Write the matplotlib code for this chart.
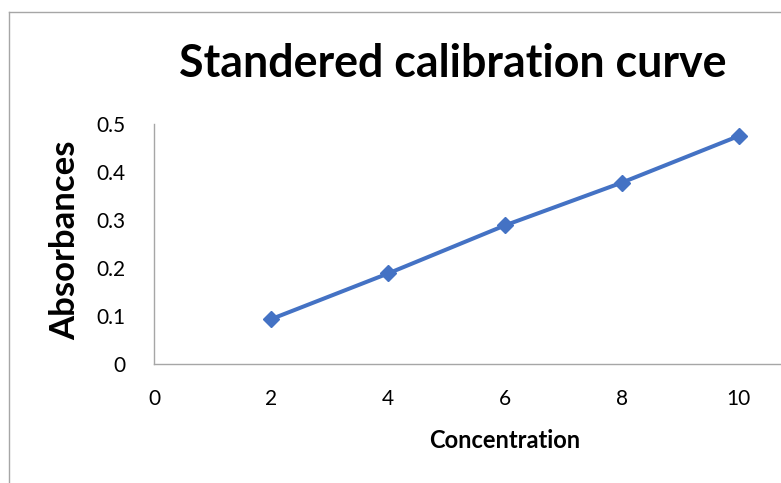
import matplotlib
matplotlib.use("Agg")
import matplotlib.pyplot as plt
from matplotlib.lines import Line2D

# calibration data
concentration = [2, 4, 6, 8, 10]
absorbance = [0.094, 0.189, 0.289, 0.378, 0.475]
x_ticks = [0, 2, 4, 6, 8, 10]
y_ticks = [0, 0.1, 0.2, 0.3, 0.4, 0.5]
y_tick_labels = ["0", "0.1", "0.2", "0.3", "0.4", "0.5"]

LINE_COLOR = "#4472C4"
AXIS_COLOR = "#A6A6A6"
W, H = 781, 483

plt.rcParams["font.family"] = ["Lato", "DejaVu Sans"]

fig = plt.figure(figsize=(W / 100, H / 100), dpi=100)
ax = fig.add_axes([154.3 / W, 1 - 364.3 / H, 12 * 58.44 / W, 240.3 / H])

ax.plot(concentration, absorbance, color=LINE_COLOR, lw=2.9,
        marker="D", markersize=8.5, clip_on=False, zorder=3)

ax.set_xlim(0, 12)
ax.set_ylim(0, 0.5)
ax.set_xticks(x_ticks)
ax.set_yticks(y_ticks)
ax.set_yticklabels(y_tick_labels)

for s in ["top", "right"]:
    ax.spines[s].set_visible(False)
for s in ["left", "bottom"]:
    ax.spines[s].set_color(AXIS_COLOR)
    ax.spines[s].set_linewidth(1.0)

ax.tick_params(axis="both", length=0, labelsize=15, colors="black")
ax.tick_params(axis="x", pad=18)
ax.tick_params(axis="y", pad=21)

# chart texts
fig.text(453 / W, 1 - 64 / H, "Standered calibration curve",
         ha="center", va="center", fontsize=32.2, fontweight="bold")
fig.text(65 / W, 1 - 240 / H, "Absorbances", rotation=90,
         ha="center", va="center", fontsize=25, fontweight="bold")
fig.text(505 / W, 1 - 441 / H, "Concentration",
         ha="center", va="center", fontsize=17, fontweight="bold")

# chart area border (cropped at right and bottom)
fig.add_artist(Line2D([9 / W, 9 / W], [0, 1 - 11.7 / H],
                      transform=fig.transFigure, color=AXIS_COLOR, lw=1))
fig.add_artist(Line2D([9 / W, 1], [1 - 11.7 / H, 1 - 11.7 / H],
                      transform=fig.transFigure, color=AXIS_COLOR, lw=1))

fig.savefig("out.png", dpi=100)
